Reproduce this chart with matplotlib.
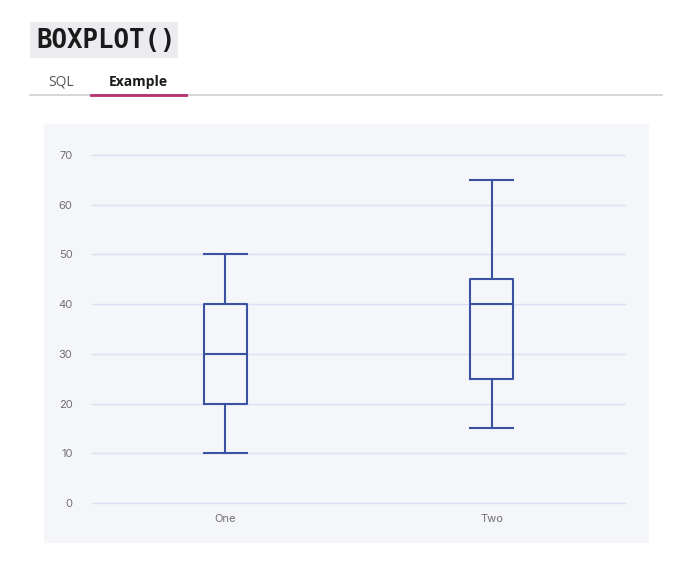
import matplotlib
matplotlib.use("Agg")
import matplotlib.pyplot as plt
from matplotlib.patches import Rectangle

# box plot statistics
categories = ["One", "Two"]
whislo = [10, 15]
q1 = [20, 25]
med = [30, 40]
q3 = [40, 45]
whishi = [50, 65]
y_ticks = [0, 10, 20, 30, 40, 50, 60, 70]

W, H = 680, 567
fig = plt.figure(figsize=(W / 100, H / 100), dpi=100)
fig.patch.set_facecolor("white")

def fx(px):
    return px / W

def fy(py):
    return 1 - py / H

# header: function name with grey background
fig.patches.append(Rectangle((fx(30), fy(58)), fx(178) - fx(30), fy(22) - fy(58),
                             transform=fig.transFigure, facecolor="#ebebf0",
                             edgecolor="none", zorder=-2))
fig.text(fx(36), fy(41), "BOXPLOT()", family="DejaVu Sans Mono", fontsize=18.5,
         fontweight="bold", color="#1a1a1a", va="center", ha="left")

# tabs
fig.text(fx(48), fy(82), "SQL", family="Open Sans", fontsize=10, color="#555555",
         va="center", ha="left")
fig.text(fx(109), fy(82), "Example", family="Open Sans", fontsize=10,
         fontweight="bold", color="#1a1a1a", va="center", ha="left")
fig.add_artist(plt.Line2D([fx(30), fx(662)], [fy(95), fy(95)], color="#cfcfcf",
                          lw=1.2, transform=fig.transFigure))
fig.add_artist(plt.Line2D([fx(91), fx(186)], [fy(94.5), fy(94.5)], color="#b5306e",
                          lw=2, transform=fig.transFigure))

# chart panel
fig.patches.append(Rectangle((fx(44), fy(543)), fx(649) - fx(44), fy(124) - fy(543),
                             transform=fig.transFigure, facecolor="#f5f6f9",
                             edgecolor="none", zorder=-2))

ax = fig.add_axes([fx(92), fy(503), fx(625) - fx(92), fy(155) - fy(503)])
ax.set_facecolor("none")

stats = []
for i, name in enumerate(categories):
    stats.append({"label": name, "whislo": whislo[i], "q1": q1[i], "med": med[i],
                  "q3": q3[i], "whishi": whishi[i], "fliers": []})

box_color = "#3a52a0"
ax.bxp(stats, positions=range(len(categories)), widths=0.16, showfliers=False,
       boxprops=dict(color=box_color, linewidth=1.5),
       whiskerprops=dict(color=box_color, linewidth=1.5),
       capprops=dict(color=box_color, linewidth=1.5),
       medianprops=dict(color=box_color, linewidth=1.5),
       capwidths=0.16)

ax.set_xlim(-0.5, len(categories) - 0.5)
ax.set_ylim(0, 70)
ax.set_yticks(y_ticks)
ax.set_xticks(range(len(categories)))
ax.set_xticklabels(categories)
ax.yaxis.grid(True, color="#dddff2", linewidth=1)
ax.set_axisbelow(True)
for s in ax.spines.values():
    s.set_visible(False)
ax.tick_params(length=0, labelsize=8, labelcolor="#707070", pad=14)
ax.tick_params(axis="x", pad=8)
for lbl in ax.get_xticklabels() + ax.get_yticklabels():
    lbl.set_family("Inter")
for gl in ax.get_ygridlines():
    gl.set_clip_on(False)

fig.savefig("out.png", dpi=100, facecolor="white")
